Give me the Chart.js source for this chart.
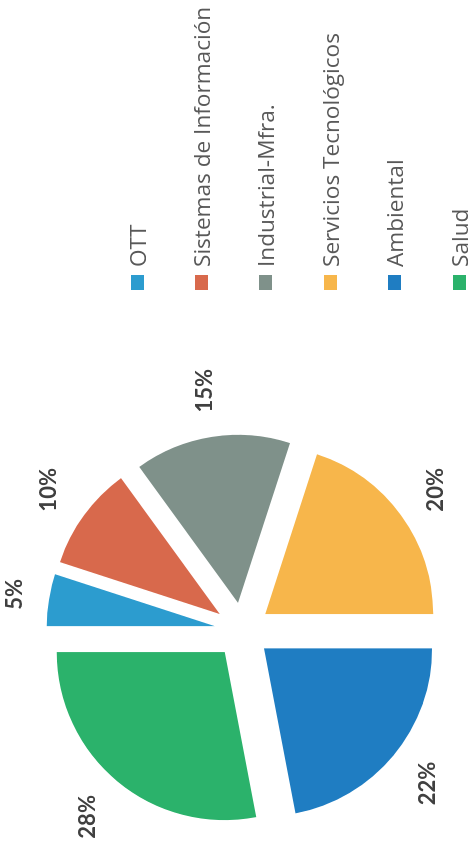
<!DOCTYPE html>
<html>
<head>
<meta charset="utf-8">
<script src="https://cdn.jsdelivr.net/npm/chart.js@4.4.1/dist/chart.umd.min.js"></script>
<style>
html,body{margin:0;padding:0;background:#fff;overflow:hidden;width:472px;height:856px;}
#wrap{position:absolute;left:0;top:0;width:856px;height:472px;transform-origin:0 0;transform:translateY(856px) rotate(-90deg);background:#fff;}
canvas{display:block;position:absolute;left:0;top:0;}
#legend{position:absolute;left:566px;top:105px;margin:0;padding:0;list-style:none;font-family:'Open Sans',sans-serif;font-size:22.6px;color:#595959;}
#legend li{height:64.4px;display:flex;align-items:center;white-space:nowrap;}
#legend .box{display:inline-block;width:15px;height:13px;margin-right:8px;flex:none;}
</style>
</head>
<body>
<div id="wrap">
  <canvas id="c" width="856" height="472" style="width:856px;height:472px"></canvas>
  <ul id="legend"></ul>
</div>
<script>
// ---- data ----
const categories = ['OTT', 'Sistemas de Información', 'Industrial-Mfra.', 'Servicios Tecnológicos', 'Ambiental', 'Salud'];
const values = [5, 10, 15, 20, 22, 28];
const valueLabels = ['5%', '10%', '15%', '20%', '22%', '28%'];

// ---- style ----
const palette = ['#2C9CCF', '#D8694C', '#7F918A', '#F7B64B', '#1F7DC2', '#2BB26B'];
const EXPLODE = 28;
const PIE_RADIUS = 168;
const LABEL_GAP = 24;

// explode slices by pure translation (no radius growth for thin slices)
const explodeFix = {
  id: 'explodeFix',
  beforeDatasetsDraw(chart) {
    chart.getDatasetMeta(0).data.forEach(arc => { arc.circumference = Math.PI / 2; });
  }
};

// percentage labels outside each slice
const outsideLabels = {
  id: 'outsideLabels',
  afterDatasetsDraw(chart) {
    const ctx = chart.ctx;
    const meta = chart.getDatasetMeta(0);
    ctx.save();
    ctx.font = 'bold 22px Lato';
    ctx.fillStyle = '#404040';
    ctx.textAlign = 'center';
    ctx.textBaseline = 'middle';
    meta.data.forEach((arc, i) => {
      const p = arc.getProps(['x', 'y', 'startAngle', 'endAngle', 'outerRadius'], true);
      const mid = (p.startAngle + p.endAngle) / 2;
      const text = valueLabels[i];
      const w = ctx.measureText(text).width;
      const h = 16;
      const c = Math.cos(mid), s = Math.sin(mid);
      const half = Math.abs(c) * w / 2 + Math.abs(s) * h / 2;
      const d = p.outerRadius + EXPLODE + LABEL_GAP + half;
      ctx.fillText(text, p.x + c * d, p.y + s * d);
    });
    ctx.restore();
  }
};

// HTML legend built from the chart's own legend items
const htmlLegend = {
  id: 'htmlLegend',
  afterUpdate(chart) {
    const ul = document.getElementById('legend');
    ul.innerHTML = '';
    chart.options.plugins.legend.labels.generateLabels(chart).forEach(item => {
      const li = document.createElement('li');
      const box = document.createElement('span');
      box.className = 'box';
      box.style.background = item.fillStyle;
      const t = document.createElement('span');
      t.textContent = item.text;
      li.append(box, t);
      ul.append(li);
    });
  }
};

new Chart(document.getElementById('c'), {
  type: 'pie',
  data: {
    labels: categories,
    datasets: [{
      data: values,
      backgroundColor: palette,
      borderWidth: 0,
      offset: EXPLODE * 4,
      hoverOffset: EXPLODE * 4,
      radius: PIE_RADIUS
    }]
  },
  options: {
    responsive: false,
    animation: false,
    devicePixelRatio: 1,
    layout: { padding: { left: 0, right: 405, top: 13, bottom: 0 } },
    plugins: {
      tooltip: { enabled: false },
      legend: { display: false }
    }
  },
  plugins: [explodeFix, outsideLabels, htmlLegend]
});
</script>
</body>
</html>
